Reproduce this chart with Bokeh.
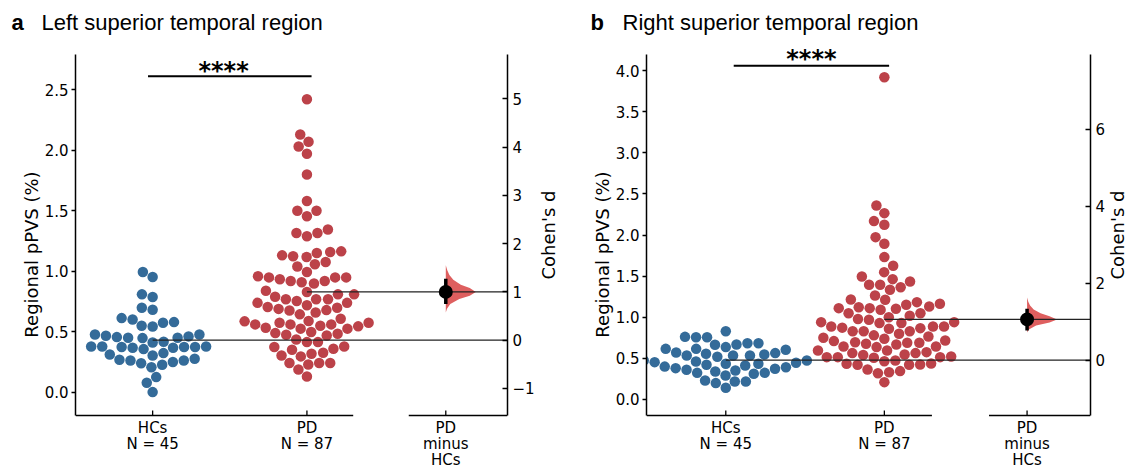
import math
import numpy as np
from bokeh.plotting import figure
from bokeh.models import Range1d, LinearAxis, FixedTicker, Label
from bokeh.layouts import row, column
from bokeh.embed import file_html
from bokeh.resources import INLINE
from bokeh.core.properties import value

# ---------------- data ----------------
group_names = ["HCs", "PD"]
delta_lines = ["PD", "minus", "HCs"]
a_letter, a_title = "a", "Left superior temporal region"
b_letter, b_title = "b", "Right superior temporal region"
y_label = "Regional pPVS (%)"
d_label = "Cohen's d"

a_hcs = [0.995, 0.953, 0.81, 0.788, 0.70, 0.683, 0.614, 0.603, 0.581, 0.576, 0.551, 0.545,
         0.479, 0.479, 0.468, 0.463, 0.457, 0.452, 0.452, 0.449, 0.419, 0.413,
         0.380, 0.375, 0.375, 0.369, 0.325, 0.306, 0.358, 0.369, 0.375, 0.380, 0.380,
         0.278, 0.264, 0.251, 0.229, 0.209, 0.242, 0.264, 0.270, 0.314, 0.127, 0.080, 0.003]
a_pd = [2.42, 2.13, 2.07, 2.03, 1.97, 1.80, 1.58, 1.50, 1.50, 1.455, 1.345, 1.317, 1.317, 1.289,
        1.165, 1.16, 1.152, 1.132, 1.124, 1.118, 1.077, 1.058, 1.04,
        0.995, 0.95, 0.92, 0.91, 0.96, 0.90, 0.95, 0.92, 0.935, 0.95,
        0.83, 0.81, 0.84, 0.81, 0.79, 0.77, 0.755, 0.72, 0.74, 0.74, 0.77, 0.77,
        0.705, 0.69, 0.68, 0.66, 0.645, 0.677, 0.70,
        0.587, 0.562, 0.609, 0.562, 0.576, 0.576, 0.551, 0.527, 0.546, 0.562, 0.59,
        0.49, 0.476, 0.527, 0.535, 0.485, 0.50,
        0.416, 0.375, 0.361, 0.416, 0.438, 0.471, 0.380,
        0.306, 0.298, 0.32, 0.328, 0.353, 0.243, 0.231, 0.243, 0.243, 0.190, 0.132]
b_hcs = [0.831, 0.758, 0.758, 0.762, 0.685, 0.669, 0.665, 0.685, 0.616, 0.637, 0.604, 0.616,
         0.572, 0.535, 0.547, 0.535, 0.535, 0.564, 0.556, 0.474, 0.462, 0.434, 0.434, 0.446,
         0.454, 0.474, 0.414, 0.381, 0.361, 0.422, 0.353, 0.373, 0.393, 0.324, 0.341, 0.292,
         0.312, 0.324, 0.231, 0.199, 0.219, 0.219, 0.142, 0.52, 0.40]
b_pd = [3.92, 2.36, 2.267, 2.17, 2.125, 1.975, 1.894, 1.732, 1.626, 1.549,
        1.496, 1.464, 1.436, 1.395, 1.366, 1.395, 1.334, 1.265, 1.213, 1.217,
        1.184, 1.131, 1.123, 1.103, 1.152, 1.111, 1.091, 1.111, 1.164, 1.050,
        1.050, 1.018, 1.001, 0.941, 0.93, 0.969, 0.929, 0.888, 0.868, 0.888,
        0.86, 0.874, 0.888, 0.941, 0.831, 0.831, 0.831, 0.766, 0.799, 0.75,
        0.71, 0.69, 0.677, 0.669, 0.645, 0.637, 0.645, 0.69, 0.718, 0.697,
        0.738, 0.596, 0.515, 0.515, 0.564, 0.547, 0.474, 0.466, 0.507, 0.564,
        0.576, 0.596, 0.515, 0.523, 0.426, 0.422, 0.365, 0.320, 0.332, 0.345,
        0.422, 0.434, 0.438, 0.211, 0.54, 0.78, 0.98]

# effect size (Cohen's d) and 95% CI
a_effect, a_ci = 1.00, [0.75, 1.27]
b_effect, b_ci = 1.06, [0.77, 1.34]
# bootstrap distribution profile (d value, relative density)
a_boot_d = [0.57, 0.65, 0.75, 0.85, 0.92, 1.00, 1.08, 1.15, 1.25, 1.35, 1.45, 1.55]
a_boot_dens = [0.0, 0.04, 0.15, 0.45, 0.8, 1.0, 0.8, 0.5, 0.25, 0.12, 0.05, 0.0]
b_boot_d = [0.72, 0.80, 0.90, 0.98, 1.06, 1.14, 1.22, 1.32, 1.42, 1.52, 1.63]
b_boot_dens = [0.0, 0.06, 0.3, 0.75, 1.0, 0.75, 0.45, 0.22, 0.1, 0.04, 0.0]
a_sig = "****"
b_sig = "****"

a_left_ticks = [0.0, 0.5, 1.0, 1.5, 2.0, 2.5]
a_right_ticks = [-1, 0, 1, 2, 3, 4, 5]
b_left_ticks = [0.0, 0.5, 1.0, 1.5, 2.0, 2.5, 3.0, 3.5, 4.0]
b_right_ticks = [0, 2, 4, 6]

# ---------------- style / layout ----------------
BLUE = "#346b99"
RED = "#bc4249"
VIOLIN = "#dc5656"
TICK_FONT = "DejaVu Sans"
TITLE_FONT = "Liberation Sans"
TOTAL_W = 1128
TITLE_H = 38
PANEL_H = 432
SP_TOP, SP_BOT = 16, 377        # spine ends, px from panel top
X0, X1 = -0.5, 2.3
XD = 1.9
DOT = 10.5


def beeswarm(vals, xc, ppx, ppy, diam):
    vals = np.asarray(vals, float)
    order = np.argsort(vals, kind="mergesort")
    px_l, py_l = [], []
    out = np.zeros(len(vals))
    for idx in order:
        y = vals[idx] * ppy
        nb = [(px, py) for px, py in zip(px_l, py_l) if abs(py - y) < diam][::-1]
        cands = [0.0]
        left_first = True
        for px, py in nb:
            dx = math.sqrt(max(diam ** 2 - (y - py) ** 2, 0.0))
            cands += [px - dx, px + dx] if left_first else [px + dx, px - dx]
            left_first = not left_first
        cands = sorted(cands, key=abs)
        chosen = cands[-1]
        for c in cands:
            if all((c - px) ** 2 + (y - py) ** 2 >= diam ** 2 * 0.999 for px, py in nb):
                chosen = c
                break
        px_l.append(chosen)
        py_l.append(y)
        out[idx] = xc + chosen / ppx
    return out


def style_axis(ax):
    ax.axis_line_width = 1.5
    ax.axis_line_color = "black"
    ax.major_tick_line_width = 1.3
    ax.major_tick_line_color = "black"
    ax.minor_tick_line_color = None
    ax.major_label_text_font = TICK_FONT
    ax.major_label_text_font_size = "15px"
    ax.major_label_text_color = "black"
    ax.axis_label_text_font = TICK_FONT
    ax.axis_label_text_font_size = "18px"
    ax.axis_label_text_font_style = "normal"
    ax.axis_label_text_color = "black"


def blank_fig(w, h):
    f = figure(width=w, height=h, x_range=Range1d(0, w), y_range=Range1d(0, h),
               x_axis_type=None, y_axis_type=None, title=None, min_border=0,
               output_backend="svg", toolbar_location=None)
    f.outline_line_color = None
    f.grid.visible = False
    return f


def make_panel(hcs, pd, eff, ci, vd, vw, lticks, rticks, lo, hi, W, BL, BR,
               sig, sig_bar, sig_y, star_x):
    ppy = (SP_BOT - SP_TOP) / (hi - lo)
    y_start = lo - (PANEL_H - SP_BOT) / ppy
    y_end = hi + SP_TOP / ppy
    p = figure(width=W, height=PANEL_H, x_range=Range1d(X0, X1),
               y_range=Range1d(y_start, y_end), x_axis_type=None,
               output_backend="svg", toolbar_location=None, title=None,
               min_border_left=BL, min_border_right=BR, min_border_top=0, min_border_bottom=0)
    p.outline_line_color = None
    p.grid.visible = False
    FW = W - BL - BR
    ppx = FW / (X1 - X0)

    m_hc = float(np.mean(hcs))
    m_pd = float(np.mean(pd))
    k = (m_pd - m_hc) / eff
    p.extra_y_ranges = {"d": Range1d((y_start - m_hc) / k, (y_end - m_hc) / k)}

    ya = p.yaxis[0]
    style_axis(ya)
    ya.bounds = (lo, hi)
    ya.ticker = FixedTicker(ticks=lticks)
    ya.major_label_overrides = {t: f"{t:.1f}" for t in lticks}
    ya.major_tick_in = 0
    ya.major_tick_out = 4
    ya.major_label_standoff = 3
    ya.axis_label = y_label
    ya.axis_label_standoff = 0

    ra = LinearAxis(y_range_name="d")
    style_axis(ra)
    ra.bounds = ((lo - m_hc) / k, (hi - m_hc) / k)
    ra.ticker = FixedTicker(ticks=rticks)
    ra.major_label_overrides = {t: (f"\u2212{abs(t)}" if t < 0 else f"{t}") for t in rticks}
    ra.major_tick_in = 5
    ra.major_tick_out = 0
    ra.major_label_standoff = 5
    p.add_layout(ra, "right")

    # bottom spines (two pieces), ticks and category labels
    p.segment(x0=[X0, 1.66], x1=[1.3, X1], y0=[lo] * 2, y1=[lo] * 2,
              line_color="black", line_width=1.5)
    tick_x = [0, 1, XD]
    p.segment(x0=tick_x, x1=tick_x, y0=[lo] * 3, y1=[lo + 5 / ppy] * 3,
              line_color="black", line_width=1.3)
    labels = [[group_names[0], f"N = {len(hcs)}"],
              [group_names[1], f"N = {len(pd)}"],
              delta_lines]
    tx, ty, tt = [], [], []
    for x, lines in zip(tick_x, labels):
        for i, s in enumerate(lines):
            tx.append(x)
            ty.append(lo - (12.5 + 16 * i) / ppy)
            tt.append(s)
    p.text(x=tx, y=ty, text=tt, text_font=value(TICK_FONT), text_font_size=value("15px"),
           text_align="center", text_baseline="middle", text_color="black")

    diam = DOT * 1.05
    xs_h = beeswarm(hcs, 0, ppx, ppy, diam)
    xs_p = beeswarm(pd, 1, ppx, ppy, diam)
    p.scatter(xs_h, hcs, size=DOT, fill_color=BLUE, line_color=None)
    p.scatter(xs_p, pd, size=DOT, fill_color=RED, line_color=None)

    vmax = 30.0 / ppx
    vx = [XD + w * vmax for w in vw] + [XD]
    vy = list(vd) + [vd[0]]
    p.patch(vx, vy, y_range_name="d", fill_color=VIOLIN, line_color=None, fill_alpha=0.95)

    p.segment(x0=[0, 1], x1=[X1, X1], y0=[m_hc, m_pd], y1=[m_hc, m_pd],
              line_color="#222222", line_width=1.2)

    p.segment(x0=[XD], x1=[XD], y0=[ci[0]], y1=[ci[1]], y_range_name="d",
              line_color="black", line_width=3.5)
    p.scatter([XD], [eff], y_range_name="d", size=14, fill_color="black", line_color=None)

    p.segment(x0=[sig_bar[0]], x1=[sig_bar[1]], y0=[sig_bar[2]], y1=[sig_bar[2]],
              line_color="black", line_width=2)
    p.add_layout(Label(x=star_x, y=sig_y, text=sig, text_font=TICK_FONT, text_font_size="24px",
                       text_font_style="bold", text_align="center", text_baseline="alphabetic",
                       text_color="black"))
    return p


def cohen_strip(w, x):
    f = blank_fig(w, PANEL_H)
    mid = (SP_TOP + SP_BOT) / 2.0
    f.add_layout(Label(x=x, y=PANEL_H - mid, text=d_label, angle=math.pi / 2,
                       text_font=TICK_FONT, text_font_size="18px", text_align="center",
                       text_baseline="middle", text_color="black"))
    return f


WA, WLA, WB = 537, 36, 535
pa = make_panel(a_hcs, a_pd, a_effect, a_ci, a_boot_d, a_boot_dens,
                a_left_ticks, a_right_ticks, -0.19, 2.79, W=WA, BL=75, BR=30,
                sig=a_sig, sig_bar=(-0.03, 1.03, 2.61), sig_y=2.655, star_x=0.46)
pb = make_panel(b_hcs, b_pd, b_effect, b_ci, b_boot_d, b_boot_dens,
                b_left_ticks, b_right_ticks, -0.195, 4.197, W=WB, BL=73, BR=18,
                sig=b_sig, sig_bar=(0.05, 1.03, 4.06), sig_y=4.14, star_x=0.54)
la = cohen_strip(WLA, 11)
lb = cohen_strip(TOTAL_W - WA - WLA - WB, 9)

tf = blank_fig(TOTAL_W, TITLE_H)
for x, txt, style in [(11, a_letter, "bold"), (41, a_title, "normal"),
                      (590, b_letter, "bold"), (622, b_title, "normal")]:
    tf.add_layout(Label(x=x, y=TITLE_H - 22, text=txt, text_font=TITLE_FONT,
                        text_font_size="22px", text_font_style=style,
                        text_baseline="alphabetic", text_color="black"))

layout = column(tf, row(pa, la, pb, lb))
open("out.html", "w").write(file_html(layout, INLINE))
